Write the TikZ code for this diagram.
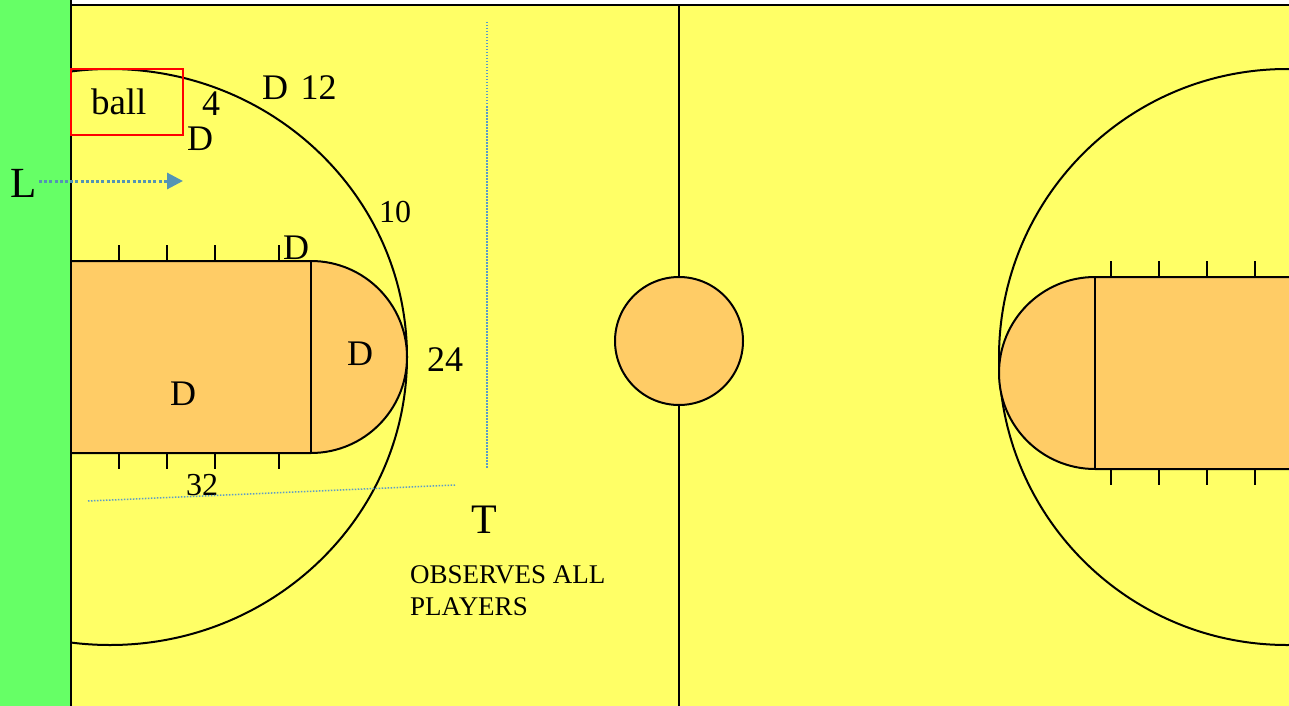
\documentclass[tikz,border=0pt]{standalone}
\usepackage{fontspec}
\setmainfont{Liberation Serif}
\usepackage{xcolor}
\usetikzlibrary{arrows.meta}
\definecolor{dCourt}{RGB}{255,255,102}
\definecolor{dSide}{RGB}{102,255,102}
\definecolor{dKey}{RGB}{255,204,102}
\definecolor{dDot}{RGB}{91,155,200}
\definecolor{dTip}{RGB}{84,148,180}
\tikzset{
  courtline/.style={draw=black, line width=2pt},
  keyarea/.style={courtline, fill=dKey},
  tickline/.style={draw=black, line width=1.6pt},
  dotline/.style={draw=dDot, line width=1.5pt, dash pattern=on 1.5pt off 1.5pt},
  dotarrow/.style={dotline, draw=dTip, line width=3pt, dash pattern=on 3pt off 2.2pt,
                   -{Triangle[length=16pt, width=16pt, fill=dTip]}},
  txt/.style={inner sep=0pt, font=\fontsize{36}{36}\selectfont},
  txtsmall/.style={inner sep=0pt, font=\fontsize{32}{32}\selectfont},
  note/.style={inner sep=0pt, align=left, font=\fontsize{27}{32}\selectfont},
  ballbox/.style={draw=red, line width=2pt, outer sep=0pt, inner xsep=20pt, inner ysep=0pt, text width=72pt,
                  minimum height=66pt, font=\fontsize{37}{37}\selectfont},
}
\begin{document}
\begin{tikzpicture}[x=1pt, y=-1pt]
  \useasboundingbox (0,0) rectangle (1289,706);
  \fill[white] (0,0) rectangle (1289,706);
  \fill[dCourt] (71,5) rectangle (1289,706);
  \fill[dSide] (0,0) rectangle (71,706);

  % three-point arcs
  \begin{scope}
    \clip (71,5) rectangle (1289,706);
    \draw[courtline] (110,357) ellipse [x radius=297, y radius=288];
    \draw[courtline] (1287,357) circle [radius=288];
  \end{scope}

  % keys
  \draw[keyarea] (71,261) -- (311,261) arc [start angle=-90, end angle=90, radius=96]
     -- (71,453);
  \draw[courtline] (311,261) -- (311,453);
  \draw[keyarea] (1289,277) -- (1095,277) arc [start angle=-90, end angle=-270, radius=96]
     -- (1289,469);
  \draw[courtline] (1095,277) -- (1095,469);

  % ticks
  \foreach \x in {119,167,215,279} {
    \draw[tickline] (\x,245) -- (\x,261);
    \draw[tickline] (\x,453) -- (\x,469);
  }
  \foreach \x in {1111,1159,1207,1255} {
    \draw[tickline] (\x,261) -- (\x,277);
    \draw[tickline] (\x,469) -- (\x,485);
  }

  % borders and half-court line
  \draw[courtline] (71,0) -- (71,706);
  \draw[courtline] (71,5) -- (1289,5);
  \node[keyarea, circle, minimum size=128pt, inner sep=0pt] (jump) at (679,341) {};
  \coordinate (midtop) at (679,5);
  \coordinate (midbot) at (679,706);
  \draw[courtline] (midtop) -- (jump);
  \draw[courtline] (jump) -- (midbot);

  % players and labels
  \node[ballbox, anchor=north west] (ball) at (71,69) {ball};
  \node[txt, anchor=base] (four) at (211,115) {4};
  \node[txt, anchor=base] (d1) at (200,150) {D};
  \node[txt, anchor=base west] (d2) at (262,100) {D\kern3.5pt{} 12};
  \node[txtsmall, anchor=base] (ten) at (395,222) {10};
  \node[txt, anchor=base] (d3) at (296,259) {D};
  \node[txt, anchor=base] (d4) at (360,365) {D};
  \node[txt, anchor=base] (d5) at (183,405) {D};
  \node[txt, anchor=base] (tf) at (445,371) {24};
  \node[txtsmall, anchor=base] (tt) at (202,495) {32};
  \node[txt, font=\fontsize{43}{43}\selectfont, anchor=base] (lead) at (24,197) {L};
  \node[txt, font=\fontsize{42}{42}\selectfont, anchor=base] (trail) at (484,533) {T};
  \node[note, anchor=north west] (obs) at (410,565) {OBSERVES ALL\\PLAYERS};

  % dotted lines
  \coordinate (arrowstart) at (39,181);
  \coordinate (arrowend) at (183,181);
  \draw[dotarrow] (arrowstart) -- (arrowend);
  \coordinate (vtop) at (487,22);
  \coordinate (vbot) at (487,469);
  \draw[dotline] (vtop) -- (vbot);
  \coordinate (sl) at (88,501);
  \coordinate (sr) at (455,485);
  \draw[dotline] (sl) -- (sr);
\end{tikzpicture}
\end{document}
